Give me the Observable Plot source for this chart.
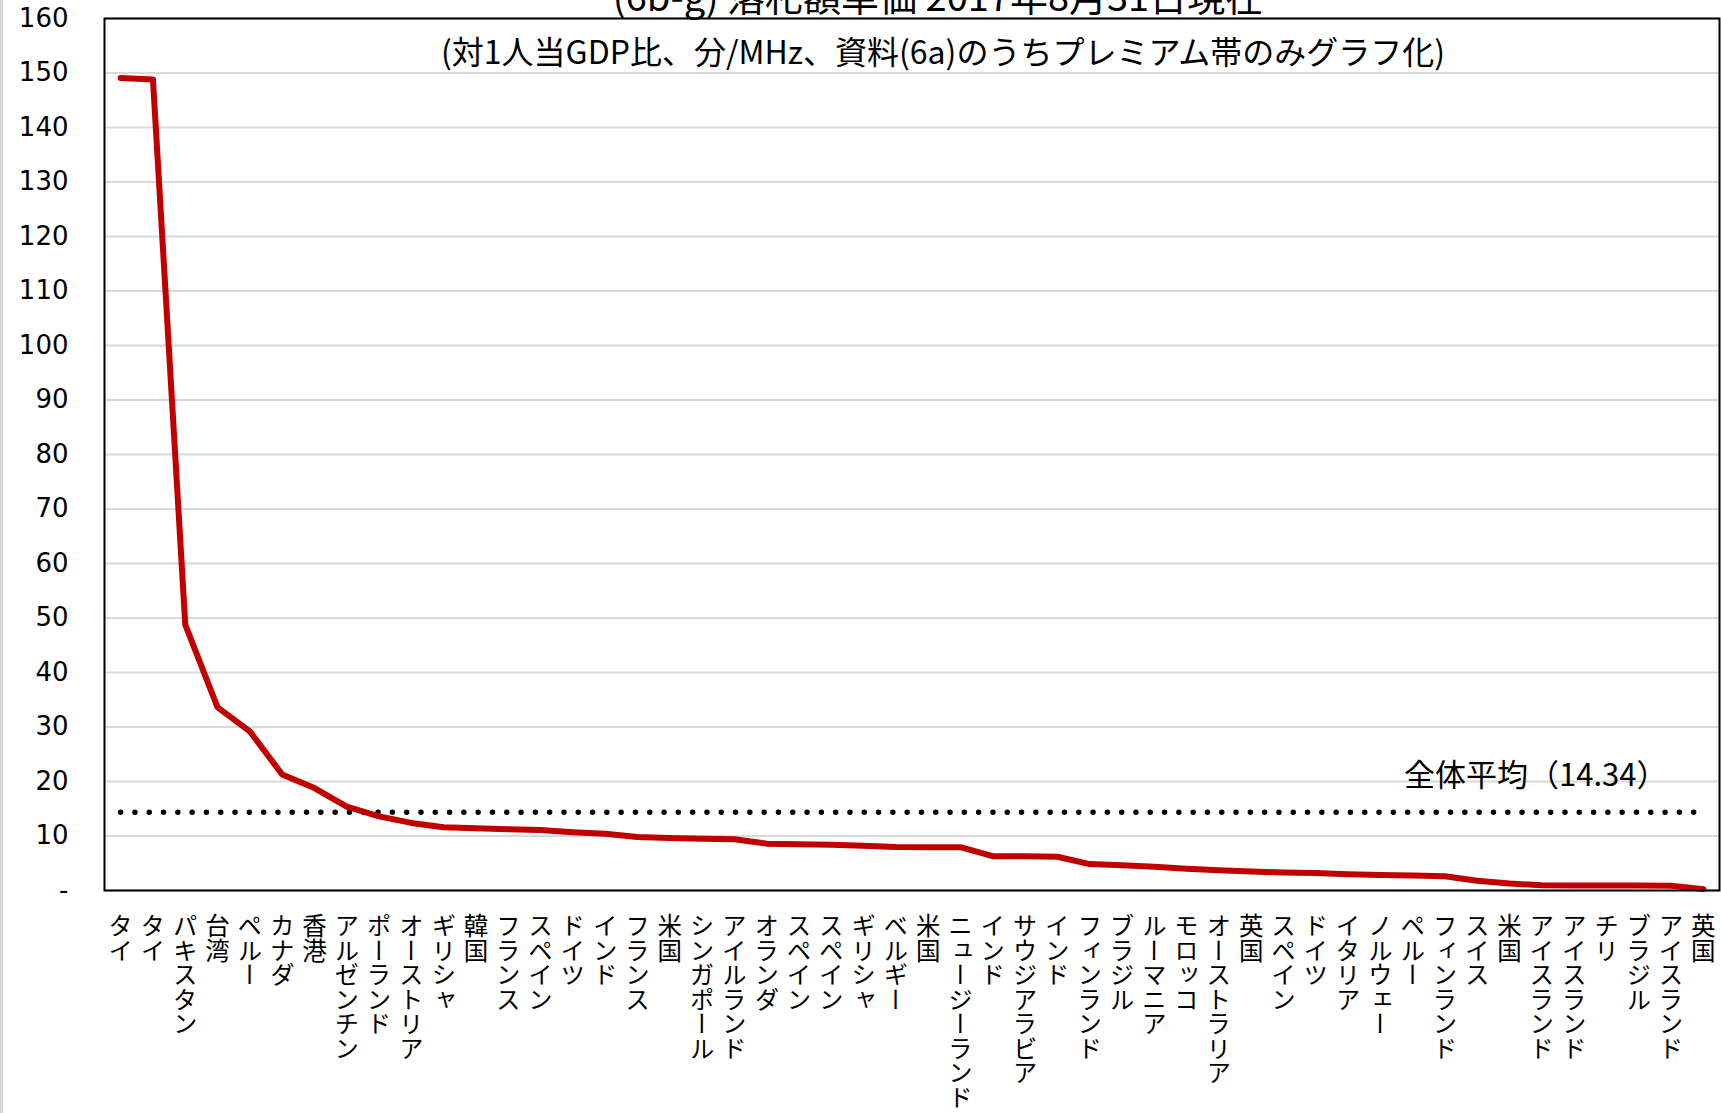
<!DOCTYPE html>
<html>
<head>
<meta charset="utf-8">
<script src="https://cdn.jsdelivr.net/npm/d3@7"></script>
<script src="https://cdn.jsdelivr.net/npm/@observablehq/plot@0.6"></script>
<style>
  html, body { margin: 0; padding: 0; background: #fff; }
  #wrap { width: 1718px; border-left: 3px solid #d9d9d9; overflow: hidden; }
  #wrap svg { display: block; }
</style>
</head>
<body>
<div id="wrap"></div>
<script>
const countries = ["タイ","タイ","パキスタン","台湾","ペルー","カナダ","香港","アルゼンチン","ポーランド","オーストリア",
  "ギリシャ","韓国","フランス","スペイン","ドイツ","インド","フランス","米国","シンガポール","アイルランド",
  "オランダ","スペイン","スペイン","ギリシャ","ベルギー","米国","ニュージーランド","インド","サウジアラビア","インド",
  "フィンランド","ブラジル","ルーマニア","モロッコ","オーストラリア","英国","スペイン","ドイツ","イタリア","ノルウェー",
  "ペルー","フィンランド","スイス","米国","アイスランド","アイスランド","チリ","ブラジル","アイスランド","英国"];
const values = [149.1,148.8,48.8,33.6,29.2,21.3,18.8,15.4,13.6,12.4,
  11.6,11.4,11.25,11.1,10.7,10.4,9.8,9.65,9.5,9.4,
  8.6,8.5,8.4,8.2,8.0,7.95,7.95,6.3,6.3,6.2,
  4.85,4.65,4.35,4.0,3.7,3.5,3.3,3.2,3.0,2.85,
  2.75,2.6,1.8,1.3,0.95,0.92,0.92,0.9,0.86,0.25];
const average = 14.34;
const averageLabel = "全体平均（14.34）";
const yTicks = [0,10,20,30,40,50,60,70,80,90,100,110,120,130,140,150,160];
const title = "(6b-g) 落札額単価 2017年8月31日現在";
const subtitle = "(対1人当GDP比、分/MHz、資料(6a)のうちプレミアム帯のみグラフ化)";

const idx = countries.map((_, i) => i);
const data = idx.map(i => ({i, v: values[i]}));
const avgLine = [{i: idx[0], v: average}, {i: idx[idx.length - 1], v: average}];

const cjk = "'Noto Sans CJK JP', 'Noto Sans', sans-serif";

const chart = Plot.plot({
  width: 1718,
  height: 1113,
  marginLeft: 101,
  marginRight: 2,
  marginTop: 18,
  marginBottom: 223,
  style: {background: "white"},
  x: {type: "point", domain: idx, padding: 0.5, round: false},
  y: {domain: [0, 160]},
  marks: [
    Plot.gridY(yTicks, {stroke: "#d9d9d9", strokeWidth: 2, strokeOpacity: 1}),
    Plot.axisY(yTicks, {tickSize: 0, tickPadding: 36, fontSize: 26, fontFamily: "'DejaVu Sans', sans-serif",
      tickFormat: d => d === 0 ? "-" : String(d), label: null, fill: "#000"}),
    Plot.axisX(idx, {tickSize: 0, tickPadding: 23, fontSize: 24.5, fontFamily: cjk,
      tickFormat: i => countries[i], label: null, fill: "#000"}),
    Plot.line(avgLine, {x: "i", y: "v", stroke: "#000", strokeWidth: 5.5, strokeDasharray: "0,14.3", strokeLinecap: "round"}),
    Plot.line(data, {x: "i", y: "v", stroke: "#C00000", strokeWidth: 6, strokeLinejoin: "round", strokeLinecap: "round"}),
    Plot.frame({stroke: "#000", strokeWidth: 2}),
    Plot.text([averageLabel], {frameAnchor: "right", y: () => average, dx: -52, dy: -36, textAnchor: "end",
      fontSize: 31, fontFamily: cjk, fill: "#000"}),
    Plot.text([subtitle], {frameAnchor: "top", dx: 31, dy: 35, lineAnchor: "middle", fontSize: 32, fontFamily: cjk, fill: "#000"}),
    Plot.text([title], {frameAnchor: "top", dx: 26, dy: -8, lineAnchor: "bottom", fontSize: 38, fontFamily: cjk, fill: "#000"})
  ]
});

d3.select(chart).selectAll('g[aria-label="x-axis tick label"] text')
  .attr("y", null).attr("dy", null)
  .attr("text-anchor", "start")
  .style("writing-mode", "vertical-rl")
  .style("text-orientation", "mixed");

document.getElementById("wrap").appendChild(chart);
</script>
</body>
</html>
